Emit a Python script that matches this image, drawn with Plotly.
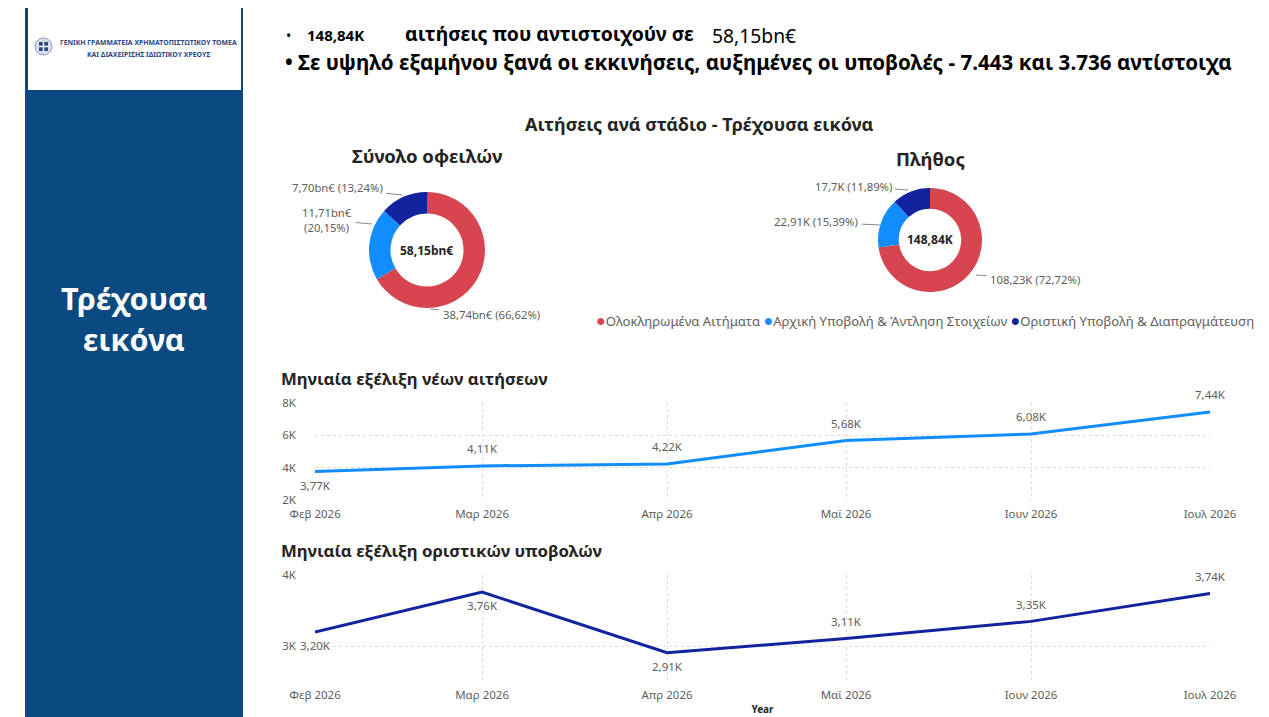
import plotly.graph_objects as go

W, H = 1269, 717
OFF = 8  # the page body adds an 8px margin around the figure

# stages of the applications (shared by both donuts)
stages = ["Ολοκληρωμένα Αιτήματα", "Αρχική Υποβολή & Άντληση Στοιχείων", "Οριστική Υποβολή & Διαπραγμάτευση"]
stage_colors = ["#D64550", "#118DFF", "#12239E"]

# donut 1 - total debt (bn EUR)
debt_bn = [38.74, 11.71, 7.70]
debt_pct = [66.62, 20.15, 13.24]
debt_total = "58,15bn€"

# donut 2 - number of applications (thousands)
count_k = [108.23, 22.91, 17.7]
count_pct = [72.72, 15.39, 11.89]
count_total = "148,84K"

# monthly lines
months = ["2026-02-01", "2026-03-01", "2026-04-01", "2026-05-01", "2026-06-01", "2026-07-01"]
month_labels = ["Φεβ 2026", "Μαρ 2026", "Απρ 2026", "Μαϊ 2026", "Ιουν 2026", "Ιουλ 2026"]
new_apps = [3770, 4110, 4220, 5680, 6080, 7440]
final_subs = [3200, 3760, 2910, 3110, 3350, 3740]

TXT = "#252423"
GRAY = "#605E5C"
FONT = "Noto Sans"


def px(x):
    return (x - OFF) / W


def py(y):
    return 1 - (y - OFF) / H


def gr(v, d=2):
    return f"{v:.{d}f}".replace(".", ",")


debt_text = [f"{gr(v)}bn€ ({gr(p)}%)" for v, p in zip(debt_bn, debt_pct)]
debt_text[1] = debt_text[1].replace(" (", "<br>(")
count_text = [f"{v:g}".replace(".", ",") + f"K ({gr(p)}%)" for v, p in zip(count_k, count_pct)]

fig = go.Figure()

fig.add_trace(go.Pie(
    values=debt_bn, labels=stages, textinfo="none",
    marker=dict(colors=stage_colors), hole=0.63, sort=False, direction="clockwise",
    domain=dict(x=[px(369), px(485)], y=[py(308), py(192)]),
    showlegend=False, automargin=False, hoverinfo="label+value"))

fig.add_trace(go.Pie(
    values=count_k, labels=stages, textinfo="none",
    marker=dict(colors=stage_colors), hole=0.6, sort=False, direction="clockwise",
    domain=dict(x=[px(878), px(982)], y=[py(292), py(188)]),
    showlegend=False, automargin=False, hoverinfo="label+value"))

fig.add_trace(go.Scatter(
    x=months, y=new_apps, mode="lines+markers+text",
    text=[gr(v / 1000) + "K" for v in new_apps],
    textposition=["bottom center", "top center", "top center", "top center", "top center", "top center"],
    textfont=dict(size=11.5, color=GRAY),
    marker=dict(size=14, color="rgba(0,0,0,0)", line=dict(width=0)),
    line=dict(color="#118DFF", width=3), cliponaxis=False,
    xaxis="x", yaxis="y", showlegend=False))

fig.add_trace(go.Scatter(
    x=months, y=final_subs, mode="lines+markers+text",
    text=[gr(v / 1000) + "K" for v in final_subs],
    textposition=["bottom center", "bottom center", "bottom center", "top center", "top center", "top center"],
    textfont=dict(size=11.5, color=GRAY),
    marker=dict(size=14, color="rgba(0,0,0,0)", line=dict(width=0)),
    line=dict(color="#12239E", width=3), cliponaxis=False,
    xaxis="x2", yaxis="y2", showlegend=False))

grid = dict(showgrid=True, gridcolor="#DDDDDD", griddash="dot", gridwidth=1,
            zeroline=False, showline=False, ticks="", automargin=False,
            tickfont=dict(size=11.5, color=GRAY, family=FONT))

fig.update_layout(
    width=W, height=H,
    margin=dict(l=0, r=0, t=0, b=0, autoexpand=False),
    paper_bgcolor="white", plot_bgcolor="white",
    font=dict(family=FONT, color=TXT),
    showlegend=False,
    xaxis=dict(domain=[px(315), px(1210)], type="date", range=[months[0], months[-1]],
               tickvals=months, ticktext=month_labels, anchor="y", ticklabelstandoff=5, **grid),
    yaxis=dict(domain=[py(500), py(403)], range=[2000, 8000],
               tickvals=[2000, 4000, 6000, 8000], ticktext=["2K", "4K", "6K", "8K"],
               ticklabelstandoff=18, anchor="x", **grid),
    xaxis2=dict(domain=[px(315), px(1210)], type="date", range=[months[0], months[-1]],
                tickvals=months, ticktext=month_labels, anchor="y2", ticklabelstandoff=4,
                title=dict(text="<b>Year</b>", font=dict(size=10, color=TXT), standoff=5), **grid),
    yaxis2=dict(domain=[py(682), py(575)], range=[2500, 4000],
                tickvals=[3000, 4000], ticktext=["3K", "4K"],
                ticklabelstandoff=18, anchor="x2", **grid),
)

shapes = [
    # left blue panel
    dict(type="rect", xref="paper", yref="paper", x0=px(25), x1=px(243), y0=py(725), y1=py(0),
         fillcolor="#0B4A80", line=dict(width=0), layer="below"),
    # logo box
    dict(type="rect", xref="paper", yref="paper", x0=px(28), x1=px(241), y0=py(90), y1=py(5),
         fillcolor="white", line=dict(width=0)),
    # emblem
    dict(type="circle", xref="paper", yref="paper", x0=px(35), x1=px(52), y0=py(55), y1=py(38),
         fillcolor="#D8DFEA", line=dict(color="#8A9BB8", width=1)),
    dict(type="rect", xref="paper", yref="paper", x0=px(39), x1=px(48), y0=py(51), y1=py(42),
         fillcolor="#2C4A86", line=dict(width=0)),
    dict(type="line", xref="paper", yref="paper", x0=px(43.5), x1=px(43.5), y0=py(51), y1=py(42),
         line=dict(color="white", width=1.5)),
    dict(type="line", xref="paper", yref="paper", x0=px(39), x1=px(48), y0=py(46.5), y1=py(46.5),
         line=dict(color="white", width=1.5)),
]

ann = []


def note(x, y, text, size, color=TXT, xanchor="left", bold=True, family=FONT):
    ann.append(dict(x=px(x), y=py(y), xref="paper", yref="paper", text=f"<b>{text}</b>" if bold else text,
                    showarrow=False, xanchor=xanchor, yanchor="middle",
                    font=dict(size=size, color=color, family=family)))


def slice_label(tip, pos, text):
    # data label with a thin leader line to the ring
    ann.append(dict(x=px(tip[0]), y=py(tip[1]), xref="paper", yref="paper", text=text,
                    showarrow=True, arrowhead=0, arrowwidth=1, arrowcolor="#8A8886", standoff=0,
                    ax=pos[0] - tip[0], ay=pos[1] - tip[1], axref="pixel", ayref="pixel",
                    font=dict(size=11.3, color=GRAY, family=FONT), align="center", borderpad=3))


# logo text
note(148, 43, "ΓΕΝΙΚΗ ΓΡΑΜΜΑΤΕΙΑ ΧΡΗΜΑΤΟΠΙΣΤΩΤΙΚΟΥ ΤΟΜΕΑ", 6.9, "#2C4A86", "center")
note(148, 54, "ΚΑΙ ΔΙΑΧΕΙΡΙΣΗΣ ΙΔΙΩΤΙΚΟΥ ΧΡΕΟΥΣ", 6.9, "#2C4A86", "center")

# panel title
note(134, 298, "Τρέχουσα", 30.5, "white", "center")
note(134, 339, "εικόνα", 30.5, "white", "center")

# header bullets
note(284, 36, "•", 14, "black", bold=False)
note(305, 35, "148,84K", 15, "black")
note(403, 34, "αιτήσεις που αντιστοιχούν σε", 19.4, "black")
note(710, 35, "58,15bn€", 19.3, "black", bold=False)
note(283, 62, "• Σε υψηλό εξαμήνου ξανά οι εκκινήσεις, αυξημένες οι υποβολές - 7.443 και 3.736 αντίστοιχα",
     20.6, "black")

# section titles
note(699, 124, "Αιτήσεις ανά στάδιο - Τρέχουσα εικόνα", 18, TXT, "center")
note(427, 155, "Σύνολο οφειλών", 18.5, TXT, "center")
note(930, 158, "Πλήθος", 18.5, TXT, "center")
note(427, 250, debt_total, 12, TXT, "center")
note(930, 240, count_total, 12, TXT, "center")

# donut data labels
slice_label((430, 309), (491, 314), debt_text[0])
slice_label((372, 224), (327, 220), debt_text[1])
slice_label((402, 195), (337, 188), debt_text[2])
slice_label((976, 275), (1035, 279), count_text[0])
slice_label((880, 225), (816, 222), count_text[1])
slice_label((908, 190), (853, 186), count_text[2])

# legend for the donuts
legend_txt = " ".join(f'<span style="color:{c};font-size:16px">●</span>{s}' for s, c in zip(stages, stage_colors))
note(594, 320, legend_txt, 13.1, GRAY, bold=False)

# line chart titles
note(279, 378, "Μηνιαία εξέλιξη νέων αιτήσεων", 16.8, TXT)
note(279, 550, "Μηνιαία εξέλιξη οριστικών υποβολών", 16.8, TXT)

fig.update_layout(shapes=shapes, annotations=ann)

fig.write_html("out.html")
